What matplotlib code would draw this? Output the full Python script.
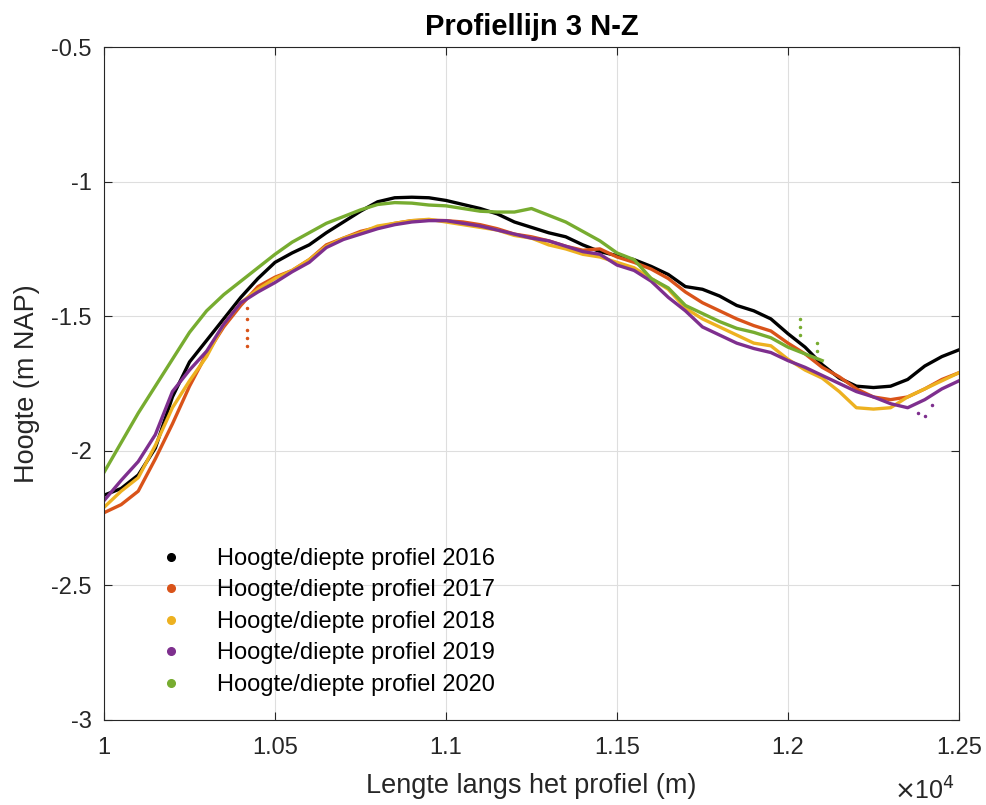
import matplotlib
matplotlib.use("Agg")
import matplotlib.pyplot as plt

plt.rcParams["font.family"] = ["Liberation Sans", "DejaVu Sans"]

# afstand langs het profiel (m), elke 50 m
x = list(range(10000, 12501, 50))

z2016 = [-2.165, -2.14, -2.09, -1.99, -1.80, -1.67, -1.59, -1.51, -1.43, -1.36,
         -1.30, -1.265, -1.235, -1.19, -1.15, -1.11, -1.075, -1.06, -1.058, -1.06,
         -1.07, -1.085, -1.10, -1.12, -1.15, -1.17, -1.19, -1.205, -1.235, -1.26,
         -1.275, -1.29, -1.315, -1.345, -1.39, -1.40, -1.425, -1.46, -1.48, -1.51,
         -1.565, -1.615, -1.68, -1.73, -1.76, -1.765, -1.76, -1.735, -1.685, -1.65,
         -1.625]
z2017 = [-2.23, -2.20, -2.15, -2.03, -1.90, -1.76, -1.64, -1.54, -1.46, -1.39,
         -1.355, -1.33, -1.29, -1.235, -1.21, -1.185, -1.17, -1.155, -1.145, -1.143,
         -1.145, -1.15, -1.16, -1.175, -1.195, -1.205, -1.22, -1.24, -1.255, -1.25,
         -1.28, -1.30, -1.325, -1.36, -1.41, -1.45, -1.48, -1.51, -1.535, -1.555,
         -1.60, -1.64, -1.69, -1.725, -1.77, -1.80, -1.81, -1.80, -1.77, -1.735,
         -1.71]
z2018 = [-2.21, -2.15, -2.10, -1.98, -1.84, -1.74, -1.65, -1.53, -1.45, -1.40,
         -1.36, -1.33, -1.29, -1.24, -1.21, -1.19, -1.165, -1.155, -1.145, -1.14,
         -1.15, -1.16, -1.17, -1.18, -1.20, -1.21, -1.235, -1.25, -1.27, -1.28,
         -1.30, -1.32, -1.36, -1.40, -1.47, -1.51, -1.54, -1.57, -1.60, -1.61,
         -1.66, -1.70, -1.73, -1.78, -1.84, -1.845, -1.84, -1.80, -1.77, -1.74,
         -1.71]
z2019 = [-2.185, -2.11, -2.04, -1.94, -1.78, -1.70, -1.63, -1.53, -1.45, -1.41,
         -1.375, -1.335, -1.30, -1.245, -1.215, -1.195, -1.175, -1.16, -1.15, -1.145,
         -1.145, -1.155, -1.165, -1.18, -1.195, -1.21, -1.22, -1.24, -1.26, -1.27,
         -1.31, -1.33, -1.37, -1.43, -1.48, -1.54, -1.57, -1.60, -1.62, -1.635,
         -1.665, -1.69, -1.72, -1.75, -1.78, -1.80, -1.825, -1.84, -1.81, -1.77,
         -1.74]
# 2020 loopt tot ca. 12100 m
x2020 = list(range(10000, 12101, 50))
z2020 = [-2.08, -1.97, -1.86, -1.76, -1.66, -1.56, -1.48, -1.42, -1.37, -1.32,
         -1.27, -1.225, -1.19, -1.155, -1.13, -1.105, -1.085, -1.078, -1.08, -1.087,
         -1.09, -1.10, -1.11, -1.113, -1.113, -1.10, -1.125, -1.15, -1.185, -1.22,
         -1.265, -1.29, -1.36, -1.395, -1.46, -1.49, -1.52, -1.545, -1.56, -1.58,
         -1.615, -1.64, -1.665]

# losse uitschieters
x_out2017 = [10418, 10418, 10418, 10418, 10418]
z_out2017 = [-1.47, -1.51, -1.55, -1.58, -1.61]
x_out2020 = [12035, 12035, 12035, 12085, 12085]
z_out2020 = [-1.51, -1.54, -1.57, -1.60, -1.63]
x_out2019 = [12380, 12400, 12420]
z_out2019 = [-1.86, -1.87, -1.83]

labels = ["Hoogte/diepte profiel 2016", "Hoogte/diepte profiel 2017",
          "Hoogte/diepte profiel 2018", "Hoogte/diepte profiel 2019",
          "Hoogte/diepte profiel 2020"]
colors = ["#000000", "#D95319", "#EDB120", "#7E2F8E", "#77AC30"]
TXT = "#262626"

fig = plt.figure(figsize=(9.87, 8.05), dpi=100)
ax = fig.add_axes([0.1054, 0.1056, 0.8662, 0.836])

series = [(x, z2016), (x, z2017), (x, z2018), (x, z2019), (x2020, z2020)]
for (xs, zs), c, lab in zip(series, colors, labels):
    ax.plot(xs, zs, color=c, lw=2.4, solid_joinstyle="round")
    ax.plot([], [], ls="none", marker="o", ms=5.5, color=c, label=lab)

ax.plot(x_out2017, z_out2017, ls="none", marker=".", ms=3, color=colors[1])
ax.plot(x_out2019, z_out2019, ls="none", marker=".", ms=3, color=colors[3])
ax.plot(x_out2020, z_out2020, ls="none", marker=".", ms=3, color=colors[4])

ax.set_xlim(10000, 12500)
ax.set_ylim(-3, -0.5)
ax.set_xticks([10000, 10500, 11000, 11500, 12000, 12500])
ax.set_xticklabels(["1", "1.05", "1.1", "1.15", "1.2", "1.25"])
ax.set_yticks([-3, -2.5, -2, -1.5, -1, -0.5])
ax.set_yticklabels(["-3", "-2.5", "-2", "-1.5", "-1", "-0.5"])
ax.tick_params(direction="in", top=True, right=True, labelsize=17,
               length=6, width=0.8, colors=TXT)
ax.tick_params(axis="x", pad=12)
ax.tick_params(axis="y", pad=9)
for s in ax.spines.values():
    s.set_color(TXT)
    s.set_linewidth(0.8)
ax.grid(True, color="#dedede", lw=0.8)
ax.set_axisbelow(True)

ax.set_title("Profiellijn 3 N-Z", fontsize=21, fontweight="bold", pad=9)
ax.set_xlabel("Lengte langs het profiel (m)", fontsize=19.5, color=TXT, labelpad=10)
ax.set_ylabel("Hoogte (m NAP)", fontsize=19.5, color=TXT, labelpad=8)
fig.text(0.906, 0.0, r"$\times$10$^4$", fontsize=18, color=TXT, va="bottom")

ax.legend(loc="lower left", bbox_to_anchor=(0.065, 0.036), frameon=False,
          fontsize=17, handletextpad=1.45, labelspacing=0.4,
          handlelength=1.0, borderaxespad=0, borderpad=0)

fig.savefig("out.png", dpi=100, facecolor="white")
